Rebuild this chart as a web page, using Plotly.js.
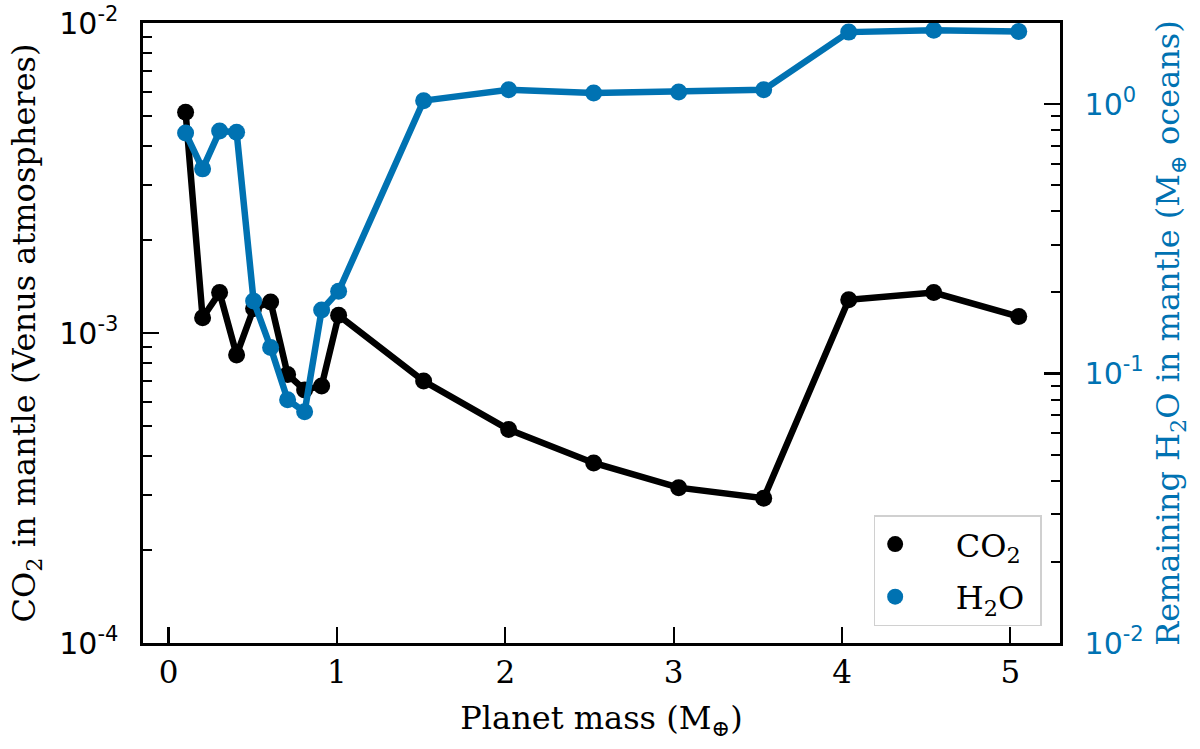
<!DOCTYPE html>
<html>
<head>
<meta charset="utf-8">
<script src="https://cdn.plot.ly/plotly-3.0.1.min.js"></script>
<style>
  html, body { margin: 0; padding: 0; background: #fff; }
  #chart { width: 1200px; height: 749px; }
</style>
</head>
<body>
<div id="chart"></div>
<script>
// Planet mass (Earth masses)
const planetMass = [0.101, 0.202, 0.303, 0.404, 0.505, 0.606, 0.707, 0.808, 0.909, 1.01,
                    1.515, 2.02, 2.525, 3.03, 3.535, 4.04, 4.545, 5.05];
// CO2 in mantle (Venus atmospheres)
const co2Mantle = [5.15e-3, 1.12e-3, 1.35e-3, 8.5e-4, 1.2e-3, 1.26e-3, 7.35e-4, 6.55e-4, 6.75e-4, 1.14e-3,
                   7.0e-4, 4.88e-4, 3.81e-4, 3.17e-4, 2.93e-4, 1.28e-3, 1.35e-3, 1.13e-3];
// Remaining H2O in mantle (Earth oceans)
const h2oMantle = [0.781, 0.575, 0.794, 0.787, 0.186, 0.125, 0.080, 0.0721, 0.172, 0.202,
                   1.03, 1.13, 1.10, 1.11, 1.13, 1.85, 1.88, 1.86];

const seriesNames = ['CO<sub>2</sub>', 'H<sub>2</sub>O'];
const xTicks = [0, 1, 2, 3, 4, 5];
const leftMajor = [1e-4, 1e-3, 1e-2];
const leftMajorText = ['10<sup>-4</sup>', '10<sup>-3</sup>', '10<sup>-2</sup>'];
const rightMajor = [1e-2, 1e-1, 1e0];
const rightMajorText = ['10<sup>-2</sup>', '10<sup>-1</sup>', '10<sup>0</sup>'];
const minorDigits = [2, 3, 4, 5, 6, 7, 8, 9];

const BLUE = '#0072B2';
const FONT = 'DejaVu Serif';
const MATHFONT = 'DejaVu Sans';
const PAD = '\u00a0\u00a0\u00a0\u00a0';
const TRAIL = '\u00a0';

function minorVals(decades) {
  const out = [];
  decades.forEach(d => minorDigits.forEach(m => out.push(m * d)));
  return out;
}

const traces = [
  {
    x: planetMass, y: co2Mantle, yaxis: 'y', mode: 'lines+markers',
    line: {color: '#000', width: 6.5}, marker: {color: '#000', size: 17},
    showlegend: false, name: seriesNames[0]
  },
  {
    x: planetMass, y: h2oMantle, yaxis: 'y2', mode: 'lines+markers',
    line: {color: BLUE, width: 6.5}, marker: {color: BLUE, size: 17},
    showlegend: false, name: seriesNames[1]
  },
  // legend-only entries (markers only, as in the reference)
  { x: [null], y: [null], mode: 'markers', marker: {color: '#000', size: 16},
    name: PAD + seriesNames[0] + TRAIL, yaxis: 'y', legendgroup: 'a' },
  { x: [null], y: [null], mode: 'markers', marker: {color: BLUE, size: 16},
    name: PAD + seriesNames[1] + TRAIL, yaxis: 'y2', legendgroup: 'b' }
];

const layout = {
  width: 1200, height: 749,
  paper_bgcolor: '#fff', plot_bgcolor: 'rgba(0,0,0,0)',
  margin: {l: 143, r: 140, t: 23, b: 106, pad: 0},
  font: {family: FONT, size: 31, color: '#000'},
  showlegend: true,
  legend: {
    x: 0.98, y: 0.027, xanchor: 'right', yanchor: 'bottom',
    bgcolor: 'rgba(255,255,255,0.85)', bordercolor: '#d0d0d0', borderwidth: 1.5,
    font: {family: FONT, size: 32, color: '#000'},
    itemwidth: 30, tracegroupgap: 8,
    traceorder: 'grouped'
  },
  xaxis: {
    range: [-0.152, 5.295], tickmode: 'array', tickvals: xTicks,
    ticks: 'inside', ticklen: 16, tickwidth: 2.2, tickcolor: '#000',
    showline: true, linecolor: '#000', linewidth: 2.6, mirror: true,
    showgrid: false, zeroline: false,
    ticklabelstandoff: 0,
    tickfont: {family: FONT, size: 31, color: '#000'},
    title: {text: 'Planet mass (M<sub>⊕</sub>)', font: {family: FONT, size: 32, color: '#000'}, standoff: 18},
    automargin: false
  },
  yaxis: {
    type: 'log', range: [-4, -2], tickmode: 'array', tickvals: leftMajor, ticktext: leftMajorText,
    ticks: 'inside', ticklen: 16, tickwidth: 2.2, tickcolor: '#000',
    minor: {tickmode: 'array', tickvals: minorVals([1e-4, 1e-3]), ticks: 'inside', ticklen: 9, tickwidth: 2, tickcolor: '#000', showgrid: false},
    showline: true, linecolor: '#000', linewidth: 2.6,
    showgrid: false, zeroline: false,
    ticklabelstandoff: 16,
    tickfont: {family: MATHFONT, size: 30, color: '#000'},
    title: {text: 'CO<sub>2</sub> in mantle (Venus atmospheres)', font: {family: FONT, size: 32, color: '#000'}, standoff: 14},
    automargin: false
  },
  yaxis2: {
    type: 'log', range: [-2, Math.log10(2)], overlaying: 'y', side: 'right',
    tickmode: 'array', tickvals: rightMajor, ticktext: rightMajorText,
    ticks: 'inside', ticklen: 16, tickwidth: 2.2, tickcolor: '#000',
    minor: {tickmode: 'array', tickvals: minorVals([1e-2, 1e-1, 1e0]), ticks: 'inside', ticklen: 9, tickwidth: 2, tickcolor: '#000', showgrid: false},
    showline: true, linecolor: '#000', linewidth: 2.6,
    showgrid: false, zeroline: false,
    ticklabelstandoff: 16,
    tickfont: {family: MATHFONT, size: 30, color: BLUE},
    title: {text: 'Remaining H<sub>2</sub>O in mantle (M<sub>⊕</sub> oceans)', font: {family: FONT, size: 32, color: BLUE}, standoff: 14},
    automargin: false
  }
};

Plotly.newPlot('chart', traces, layout, {staticPlot: true, displayModeBar: false});
</script>
</body>
</html>
